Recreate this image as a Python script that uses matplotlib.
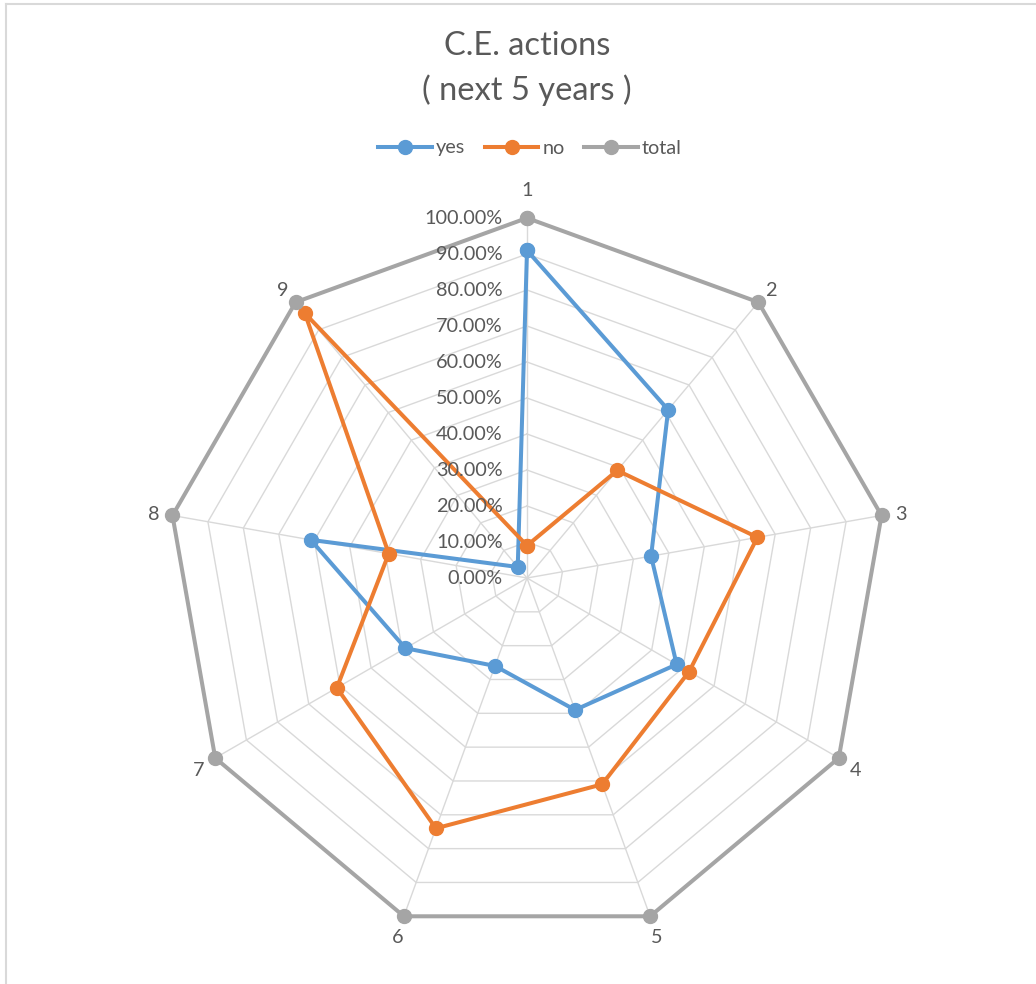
import numpy as np
import matplotlib
matplotlib.use("Agg")
import matplotlib.pyplot as plt
from matplotlib.lines import Line2D

plt.rcParams['font.family'] = ['Lato', 'DejaVu Sans']

categories = ["1", "2", "3", "4", "5", "6", "7", "8", "9"]
yes_vals = [0.91, 0.61, 0.35, 0.48, 0.39, 0.26, 0.39, 0.61, 0.04]
no_vals = [0.09, 0.39, 0.65, 0.52, 0.61, 0.74, 0.61, 0.39, 0.96]
total_vals = [1.0, 1.0, 1.0, 1.0, 1.0, 1.0, 1.0, 1.0, 1.0]
levels = [0.0, 0.1, 0.2, 0.3, 0.4, 0.5, 0.6, 0.7, 0.8, 0.9, 1.0]
level_labels = ["0.00%", "10.00%", "20.00%", "30.00%", "40.00%", "50.00%",
                "60.00%", "70.00%", "80.00%", "90.00%", "100.00%"]

TXT = "#595959"
GRID = "#D9D9D9"
BLUE = "#5B9BD5"
ORANGE = "#ED7D31"
GRAY = "#A5A5A5"

W, H = 1036, 984
fig = plt.figure(figsize=(W / 100, H / 100), dpi=100)

cx, cy, R = 527, 578, 360
ax = fig.add_axes([(cx - R) / W, (H - cy - R) / H, 2 * R / W, 2 * R / H], projection='polar')
ax.set_theta_zero_location('N')
ax.set_theta_direction(-1)
ax.set_ylim(0, 1.0)
ax.grid(False)
ax.spines['polar'].set_visible(False)
ax.set_yticks([])
ax.set_xticks([])
ax.patch.set_alpha(0)

n = len(categories)
angles = np.linspace(0, 2 * np.pi, n, endpoint=False)
closed = np.concatenate([angles, angles[:1]])

# polygon gridlines
for lv in levels[1:-1]:
    ax.plot(closed, [lv] * (n + 1), color=GRID, lw=1.0, zorder=1)
for a in angles:
    ax.plot([a, a], [0, 1.0], color=GRID, lw=1.0, zorder=1)

def close(v):
    return list(v) + [v[0]]

series = [("yes", yes_vals, BLUE), ("no", no_vals, ORANGE), ("total", total_vals, GRAY)]
for name, vals, col in series:
    ax.plot(closed, close(vals), color=col, lw=2.9, marker='o', markersize=10,
            label=name, zorder=3, clip_on=False)

# radial labels
for lv, lab in zip(levels, level_labels):
    ax.annotate(lab, xy=(0, lv), xytext=(-17.5, 0), textcoords='offset points',
                ha='right', va='center', fontsize=14.3, color=TXT, annotation_clip=False)

# category labels
for a, lab in zip(angles, categories):
    d = 22 if lab == "1" else 14
    ax.annotate(lab, xy=(a, 1.0), xytext=(d * np.sin(a), d * np.cos(a) - 2),
                textcoords='offset points', ha='center', va='center',
                fontsize=14.3, color=TXT, annotation_clip=False)

# title
fig.text(cx / W, 1 - 46 / H, "C.E. actions", ha='center', va='center', fontsize=23.5, color=TXT)
fig.text(cx / W, 1 - 90 / H, "( next 5 years )", ha='center', va='center', fontsize=23.5, color=TXT)

# legend
handles, labels = ax.get_legend_handles_labels()
fig.legend(handles, labels, loc='center', bbox_to_anchor=(530 / W, 1 - 148 / H), ncol=3,
           frameon=False, fontsize=14.3, labelcolor=TXT, handlelength=2.7,
           handletextpad=0.2, columnspacing=1.0)

# chart border
fig.add_artist(Line2D([6 / W, 1.0], [1 - 4 / H, 1 - 4 / H], transform=fig.transFigure, color=GRID, lw=1.5))
fig.add_artist(Line2D([6 / W, 6 / W], [0, 1 - 4 / H], transform=fig.transFigure, color=GRID, lw=1.5))

fig.savefig("out.png", dpi=100, facecolor='white')
